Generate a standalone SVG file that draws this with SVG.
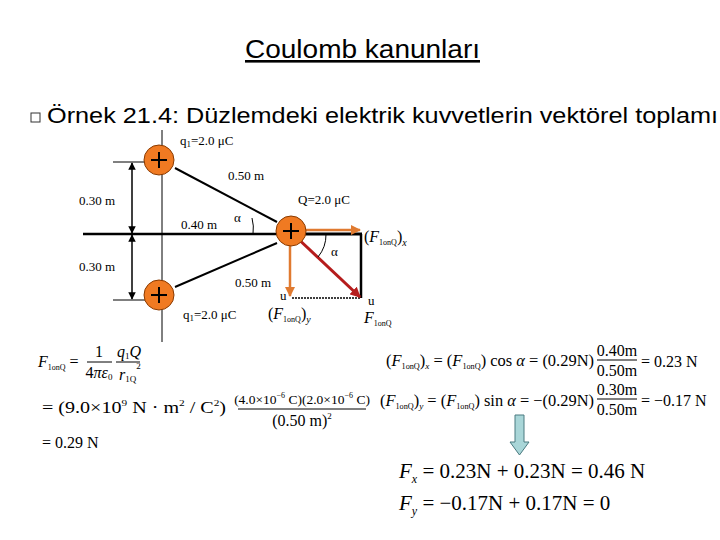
<svg xmlns="http://www.w3.org/2000/svg" width="720" height="540" viewBox="0 0 720 540">
<style>
.s{font-family:"Liberation Sans",Arial,sans-serif}
.t{font-family:"Liberation Serif","Times New Roman",serif;font-size:13px}
.m{font-family:"Liberation Serif","Times New Roman",serif;font-size:16px}
.b{font-family:"Liberation Serif","Times New Roman",serif;font-size:21px}
.ch{fill:#f07a22;stroke:#8a3a00;stroke-width:1}
.pl{stroke:#000;stroke-width:2}
</style>
<defs>
<marker id="ab" viewBox="0 0 10 10" refX="9" refY="5" markerWidth="5" markerHeight="5" orient="auto-start-reverse"><path d="M0,0L10,5L0,10z" fill="#000"/></marker>
<marker id="ao" viewBox="0 0 10 10" refX="9" refY="5" markerWidth="4" markerHeight="4" orient="auto"><path d="M0,0L10,5L0,10z" fill="#e07a30"/></marker>
<marker id="ar" viewBox="0 0 10 10" refX="9" refY="5" markerWidth="3.5" markerHeight="3.5" orient="auto"><path d="M0,0L10,5L0,10z" fill="#b51c1c"/></marker>
</defs>
<rect width="720" height="540" fill="#fff"/>
<text x="245" y="58" class="s" font-size="26" textLength="235" lengthAdjust="spacingAndGlyphs" text-decoration="underline">Coulomb kanunları</text>
<rect x="31" y="113" width="9" height="9" fill="none" stroke="#333" stroke-width="1"/>
<text x="47" y="123" class="s" font-size="22" textLength="671" lengthAdjust="spacingAndGlyphs">Örnek 21.4: Düzlemdeki elektrik kuvvetlerin vektörel toplamı</text>
<g id="connectors" fill="none">
<line x1="162" y1="130" x2="162" y2="342" stroke="#000" stroke-width="1"/>
<line x1="83" y1="234" x2="290" y2="234" stroke="#000" stroke-width="2.5"/>
<line x1="113" y1="162" x2="162" y2="162" stroke="#000" stroke-width="1"/>
<line x1="113" y1="300" x2="162" y2="300" stroke="#000" stroke-width="1"/>
<line x1="132" y1="163" x2="132" y2="233" stroke="#000" stroke-width="1.5" marker-start="url(#ab)" marker-end="url(#ab)"/>
<line x1="132" y1="235" x2="132" y2="299" stroke="#000" stroke-width="1.5" marker-start="url(#ab)" marker-end="url(#ab)"/>
<line x1="175" y1="168" x2="277" y2="222" stroke="#000" stroke-width="2"/>
<line x1="175" y1="287" x2="277" y2="243" stroke="#000" stroke-width="2"/>
<line x1="291" y1="234" x2="362" y2="234" stroke="#000" stroke-width="3"/>
<line x1="361" y1="234" x2="361" y2="298" stroke="#000" stroke-width="2.5"/>
<line x1="292" y1="298" x2="360" y2="298" stroke="#000" stroke-width="1.5" stroke-dasharray="2,1"/>
<line x1="291" y1="230" x2="360" y2="230" stroke="#e07a30" stroke-width="2.5" marker-end="url(#ao)"/>
<line x1="290" y1="232" x2="290" y2="296" stroke="#e07a30" stroke-width="2.5" marker-end="url(#ao)"/>
<line x1="293" y1="234" x2="360" y2="297" stroke="#b51c1c" stroke-width="3" marker-end="url(#ar)"/>
<path d="M252,218 A40,40 0 0 1 253,234" stroke="#000" stroke-width="1"/>
<path d="M326,234 A35,35 0 0 1 318,257" stroke="#000" stroke-width="1"/>
</g>
<g id="q1top"><circle class="ch" cx="159" cy="160" r="15"/><path class="pl" d="M151,160H167M159,152V168"/></g>
<g id="q1bot"><circle class="ch" cx="159" cy="295" r="15"/><path class="pl" d="M151,295H167M159,287V303"/></g>
<g id="Q"><circle class="ch" cx="291" cy="231" r="15"/><path class="pl" d="M283,231H299M291,223V239"/></g>
<g id="labels">
<text x="180" y="145" class="t">q<tspan font-size="9" dy="2">1</tspan><tspan dy="-2">=2.0 μC</tspan></text>
<text x="228" y="180" class="t">0.50 m</text>
<text x="298" y="204" class="t">Q=2.0 μC</text>
<text x="181" y="229" class="t">0.40 m</text>
<text x="234" y="222" class="t" font-size="17">α</text>
<text x="79" y="205" class="t">0.30 m</text>
<text x="79" y="271" class="t">0.30 m</text>
<text x="331" y="256" class="t" font-size="17">α</text>
<text x="235" y="287" class="t">0.50 m</text>
<text x="183" y="319" class="t">q<tspan font-size="9" dy="2">1</tspan><tspan dy="-2">=2.0 μC</tspan></text>
<text x="364" y="242" class="m" font-size="18">(<tspan font-style="italic">F</tspan><tspan font-size="8" dy="3">1onQ</tspan><tspan dy="-3">)</tspan><tspan font-size="10" font-style="italic" dy="4">x</tspan></text>
<text x="268" y="319" class="m" font-size="18">(<tspan font-style="italic">F</tspan><tspan font-size="8" dy="3">1onQ</tspan><tspan dy="-3">)</tspan><tspan font-size="10" font-style="italic" dy="4">y</tspan></text>
<text x="364" y="323" class="m" font-size="18" font-style="italic">F<tspan font-size="8" font-style="normal" dy="3">1onQ</tspan></text>
<text x="280" y="300" class="t" font-size="8">u</text><text x="368" y="305" class="t" font-size="8">u</text>
</g>
<g id="formula-left" class="m">
<text x="38" y="367"><tspan font-style="italic">F</tspan><tspan font-size="8" dy="3">1onQ</tspan><tspan dy="-3"> =</tspan></text>
<text x="99" y="357" text-anchor="middle">1</text>
<line x1="87" y1="362" x2="112" y2="362" stroke="#000"/>
<text x="99" y="378" text-anchor="middle">4<tspan font-style="italic">πε</tspan><tspan font-size="9" dy="2">0</tspan></text>
<text x="117" y="357" font-style="italic">q<tspan font-size="9" dy="2" font-style="normal">1</tspan><tspan dy="-2">Q</tspan></text>
<line x1="116" y1="362" x2="140" y2="362" stroke="#000"/>
<text x="119" y="380" font-style="italic">r<tspan font-size="9" dy="2" font-style="normal">1Q</tspan><tspan font-size="9" dy="-13" font-style="normal">2</tspan></text>
<text x="42" y="413" textLength="184" lengthAdjust="spacingAndGlyphs">= (9.0×10<tspan font-size="9" dy="-7">9</tspan><tspan dy="7"> N · m</tspan><tspan font-size="9" dy="-7">2</tspan><tspan dy="7"> / C</tspan><tspan font-size="9" dy="-7">2</tspan><tspan dy="7">)</tspan></text>
<text x="302" y="404" text-anchor="middle" font-size="13.5">(4.0×10<tspan font-size="8" dy="-6">−6</tspan><tspan dy="6"> C)(2.0×10</tspan><tspan font-size="8" dy="-6">−6</tspan><tspan dy="6"> C)</tspan></text>
<line x1="238" y1="409" x2="366" y2="409" stroke="#000"/>
<text x="302" y="426" text-anchor="middle">(0.50 m)<tspan font-size="9" dy="-7">2</tspan></text>
<text x="42" y="448">= 0.29 N</text>
</g>
<g id="formula-right" class="m">
<text x="386" y="366" textLength="208" lengthAdjust="spacingAndGlyphs">(<tspan font-style="italic">F</tspan><tspan font-size="8" dy="3">1onQ</tspan><tspan dy="-3">)</tspan><tspan font-size="9" font-style="italic" dy="3">x</tspan><tspan dy="-3"> = (</tspan><tspan font-style="italic">F</tspan><tspan font-size="8" dy="3">1onQ</tspan><tspan dy="-3">) cos </tspan><tspan font-style="italic">α</tspan> = (0.29N)</text>
<text x="617" y="356" text-anchor="middle">0.40m</text>
<line x1="597" y1="360" x2="637" y2="360" stroke="#000"/>
<text x="617" y="376" text-anchor="middle">0.50m</text>
<text x="641" y="367">= 0.23 N</text>
<text x="380" y="406" textLength="214" lengthAdjust="spacingAndGlyphs">(<tspan font-style="italic">F</tspan><tspan font-size="8" dy="3">1onQ</tspan><tspan dy="-3">)</tspan><tspan font-size="9" font-style="italic" dy="3">y</tspan><tspan dy="-3"> = (</tspan><tspan font-style="italic">F</tspan><tspan font-size="8" dy="3">1onQ</tspan><tspan dy="-3">) sin </tspan><tspan font-style="italic">α</tspan> = −(0.29N)</text>
<text x="617" y="395" text-anchor="middle">0.30m</text>
<line x1="597" y1="399" x2="637" y2="399" stroke="#000"/>
<text x="617" y="415" text-anchor="middle">0.50m</text>
<text x="641" y="406">= −0.17 N</text>
</g>
<g id="down-arrow"><path d="M515,415H524V442H529L519.5,455L510,442H515Z" fill="#a9d6d8" stroke="#4a7a80" stroke-width="1"/></g>
<g id="sums" class="b">
<text x="399" y="478"><tspan font-style="italic">F</tspan><tspan font-size="12" font-style="italic" dy="5">x</tspan><tspan dy="-5"> = 0.23N + 0.23N = 0.46 N</tspan></text>
<text x="399" y="510"><tspan font-style="italic">F</tspan><tspan font-size="12" font-style="italic" dy="5">y</tspan><tspan dy="-5"> = −0.17N + 0.17N = 0</tspan></text>
</g>
</svg>
